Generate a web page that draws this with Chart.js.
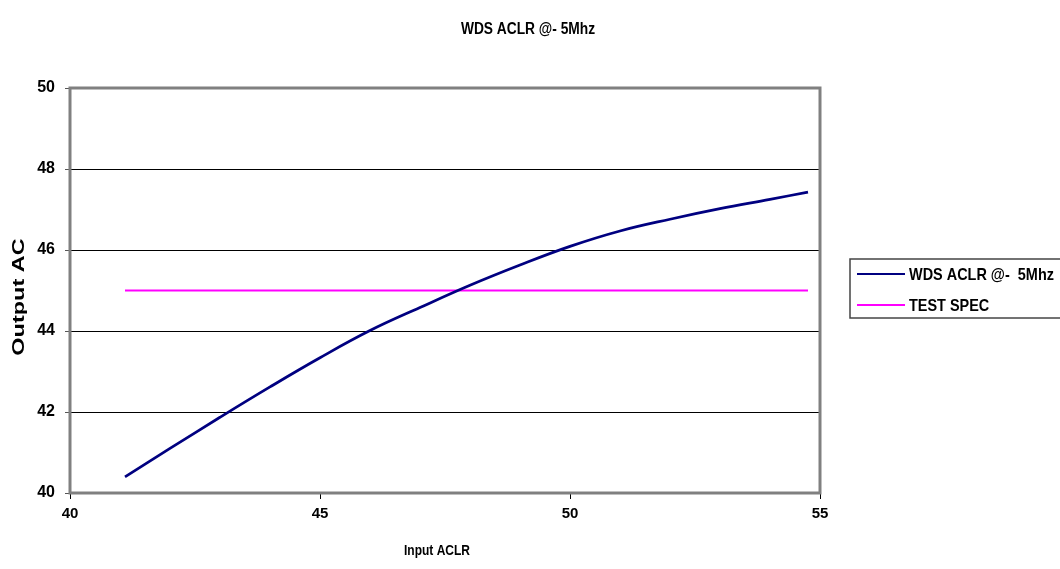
<!DOCTYPE html>
<html>
<head>
<meta charset="utf-8">
<script src="https://cdn.jsdelivr.net/npm/chart.js@4.4.1/dist/chart.umd.min.js"></script>
<style>
  html, body { margin: 0; padding: 0; background: #ffffff; }
  #wrap { width: 1060px; height: 569px; position: relative; }
</style>
</head>
<body>
<div id="wrap"><canvas id="c" width="1060" height="569"></canvas></div>
<script>
// ---- data ----
const chartTitle = 'WDS ACLR @- 5Mhz';
const seriesLabels = ['WDS ACLR @-  5Mhz', 'TEST SPEC'];
const inputAclr = [41.1, 42, 43, 44, 45, 46, 47, 48, 49, 50, 51, 52, 53, 54, 54.76];
const outputAc  = [40.40, 41.10, 41.87, 42.62, 43.34, 44.01, 44.58, 45.13, 45.63, 46.09, 46.47, 46.76, 47.02, 47.25, 47.43];
const specX = [41.1, 54.76];
const specY = [45, 45];
const xTicks = [40, 45, 50, 55];
const yTicks = [40, 42, 44, 46, 48, 50];
const xTitle = 'Input ACLR';
const yTitle = 'Output AC';

const FONT = '"Liberation Sans", Arial, sans-serif';
Chart.defaults.font.family = FONT;
Chart.defaults.color = '#000';

const toPts = (xs, ys) => xs.map((x, i) => ({ x: x, y: ys[i] }));

function drawText(ctx, text, x, y, size, sx, sy, rot, align) {
  ctx.save();
  ctx.translate(x, y);
  ctx.rotate(rot || 0);
  ctx.scale(sx, sy);
  ctx.font = 'bold ' + size + 'px ' + FONT;
  ctx.fillStyle = '#000';
  ctx.textAlign = align || 'center';
  ctx.textBaseline = 'middle';
  ctx.fillText(text, 0, 0);
  ctx.restore();
}

const frame = {
  id: 'frame',
  beforeDatasetsDraw(chart) {
    const { ctx, chartArea: a } = chart;
    ctx.save();
    ctx.strokeStyle = '#808080';
    ctx.lineWidth = 3;
    ctx.strokeRect(a.left, a.top, a.right - a.left, a.bottom - a.top);
    ctx.restore();
  }
};

const texts = {
  id: 'texts',
  afterDraw(chart) {
    const { ctx, chartArea: a } = chart;
    // chart title
    drawText(ctx, chartTitle, 528, 30, 16, 0.86, 1, 0);
    // axis titles
    drawText(ctx, xTitle, 437, 551, 15, 0.8, 1, 0);
    drawText(ctx, yTitle, 19, 297, 17, 1.38, 1, -Math.PI / 2);
  }
};

const boxLegend = {
  id: 'boxLegend',
  afterDraw(chart) {
    const { ctx } = chart;
    const ds = chart.data.datasets;
    const x0 = 850, y0 = 259, w = 230, h = 59;
    ctx.save();
    ctx.fillStyle = '#fff';
    ctx.fillRect(x0, y0, w, h);
    ctx.strokeStyle = '#444';
    ctx.lineWidth = 1.5;
    ctx.strokeRect(x0, y0, w, h);
    ctx.restore();
    ds.forEach((d, i) => {
      const y = 274 + i * 31;
      ctx.save();
      ctx.strokeStyle = d.borderColor;
      ctx.lineWidth = 2;
      ctx.beginPath();
      ctx.moveTo(857, y);
      ctx.lineTo(905, y);
      ctx.stroke();
      ctx.restore();
      drawText(ctx, d.label, 909, y + 1, 17, 0.85, 1, 0, 'left');
    });
  }
};

new Chart(document.getElementById('c'), {
  type: 'scatter',
  data: {
    datasets: [
      {
        label: seriesLabels[0],
        data: toPts(inputAclr, outputAc),
        showLine: true,
        borderColor: '#000080',
        backgroundColor: '#000080',
        borderWidth: 2.75,
        pointRadius: 0,
        tension: 0.4
      },
      {
        label: seriesLabels[1],
        data: toPts(specX, specY),
        showLine: true,
        borderColor: '#FF00FF',
        backgroundColor: '#FF00FF',
        borderWidth: 2,
        pointRadius: 0
      }
    ]
  },
  options: {
    responsive: false,
    animation: false,
    events: [],
    layout: { padding: { left: 0, right: 240, top: 88, bottom: 0 } },
    plugins: {
      legend: { display: false },
      tooltip: { enabled: false },
      title: { display: false }
    },
    scales: {
      x: {
        type: 'linear',
        min: 40, max: 55,
        afterBuildTicks(s) { s.ticks = xTicks.map(v => ({ value: v })); },
        afterFit(s) { s.height = 76; },
        ticks: { font: { size: 15, weight: 'bold' }, color: '#000', padding: 6 },
        grid: { drawOnChartArea: false, drawTicks: true, tickLength: 6, tickColor: '#000', lineWidth: 1 },
        border: { display: false },
        title: { display: false }
      },
      y: {
        type: 'linear',
        min: 40, max: 50,
        afterBuildTicks(s) { s.ticks = yTicks.map(v => ({ value: v })); },
        afterFit(s) { s.width = 70; },
        ticks: { font: { size: 16, weight: 'bold' }, color: '#000', padding: 10 },
        grid: { color: '#000', lineWidth: 1, drawTicks: true, tickLength: 5, tickColor: '#555' },
        border: { display: false },
        title: { display: false }
      }
    }
  },
  plugins: [frame, texts, boxLegend]
});
</script>
</body>
</html>
